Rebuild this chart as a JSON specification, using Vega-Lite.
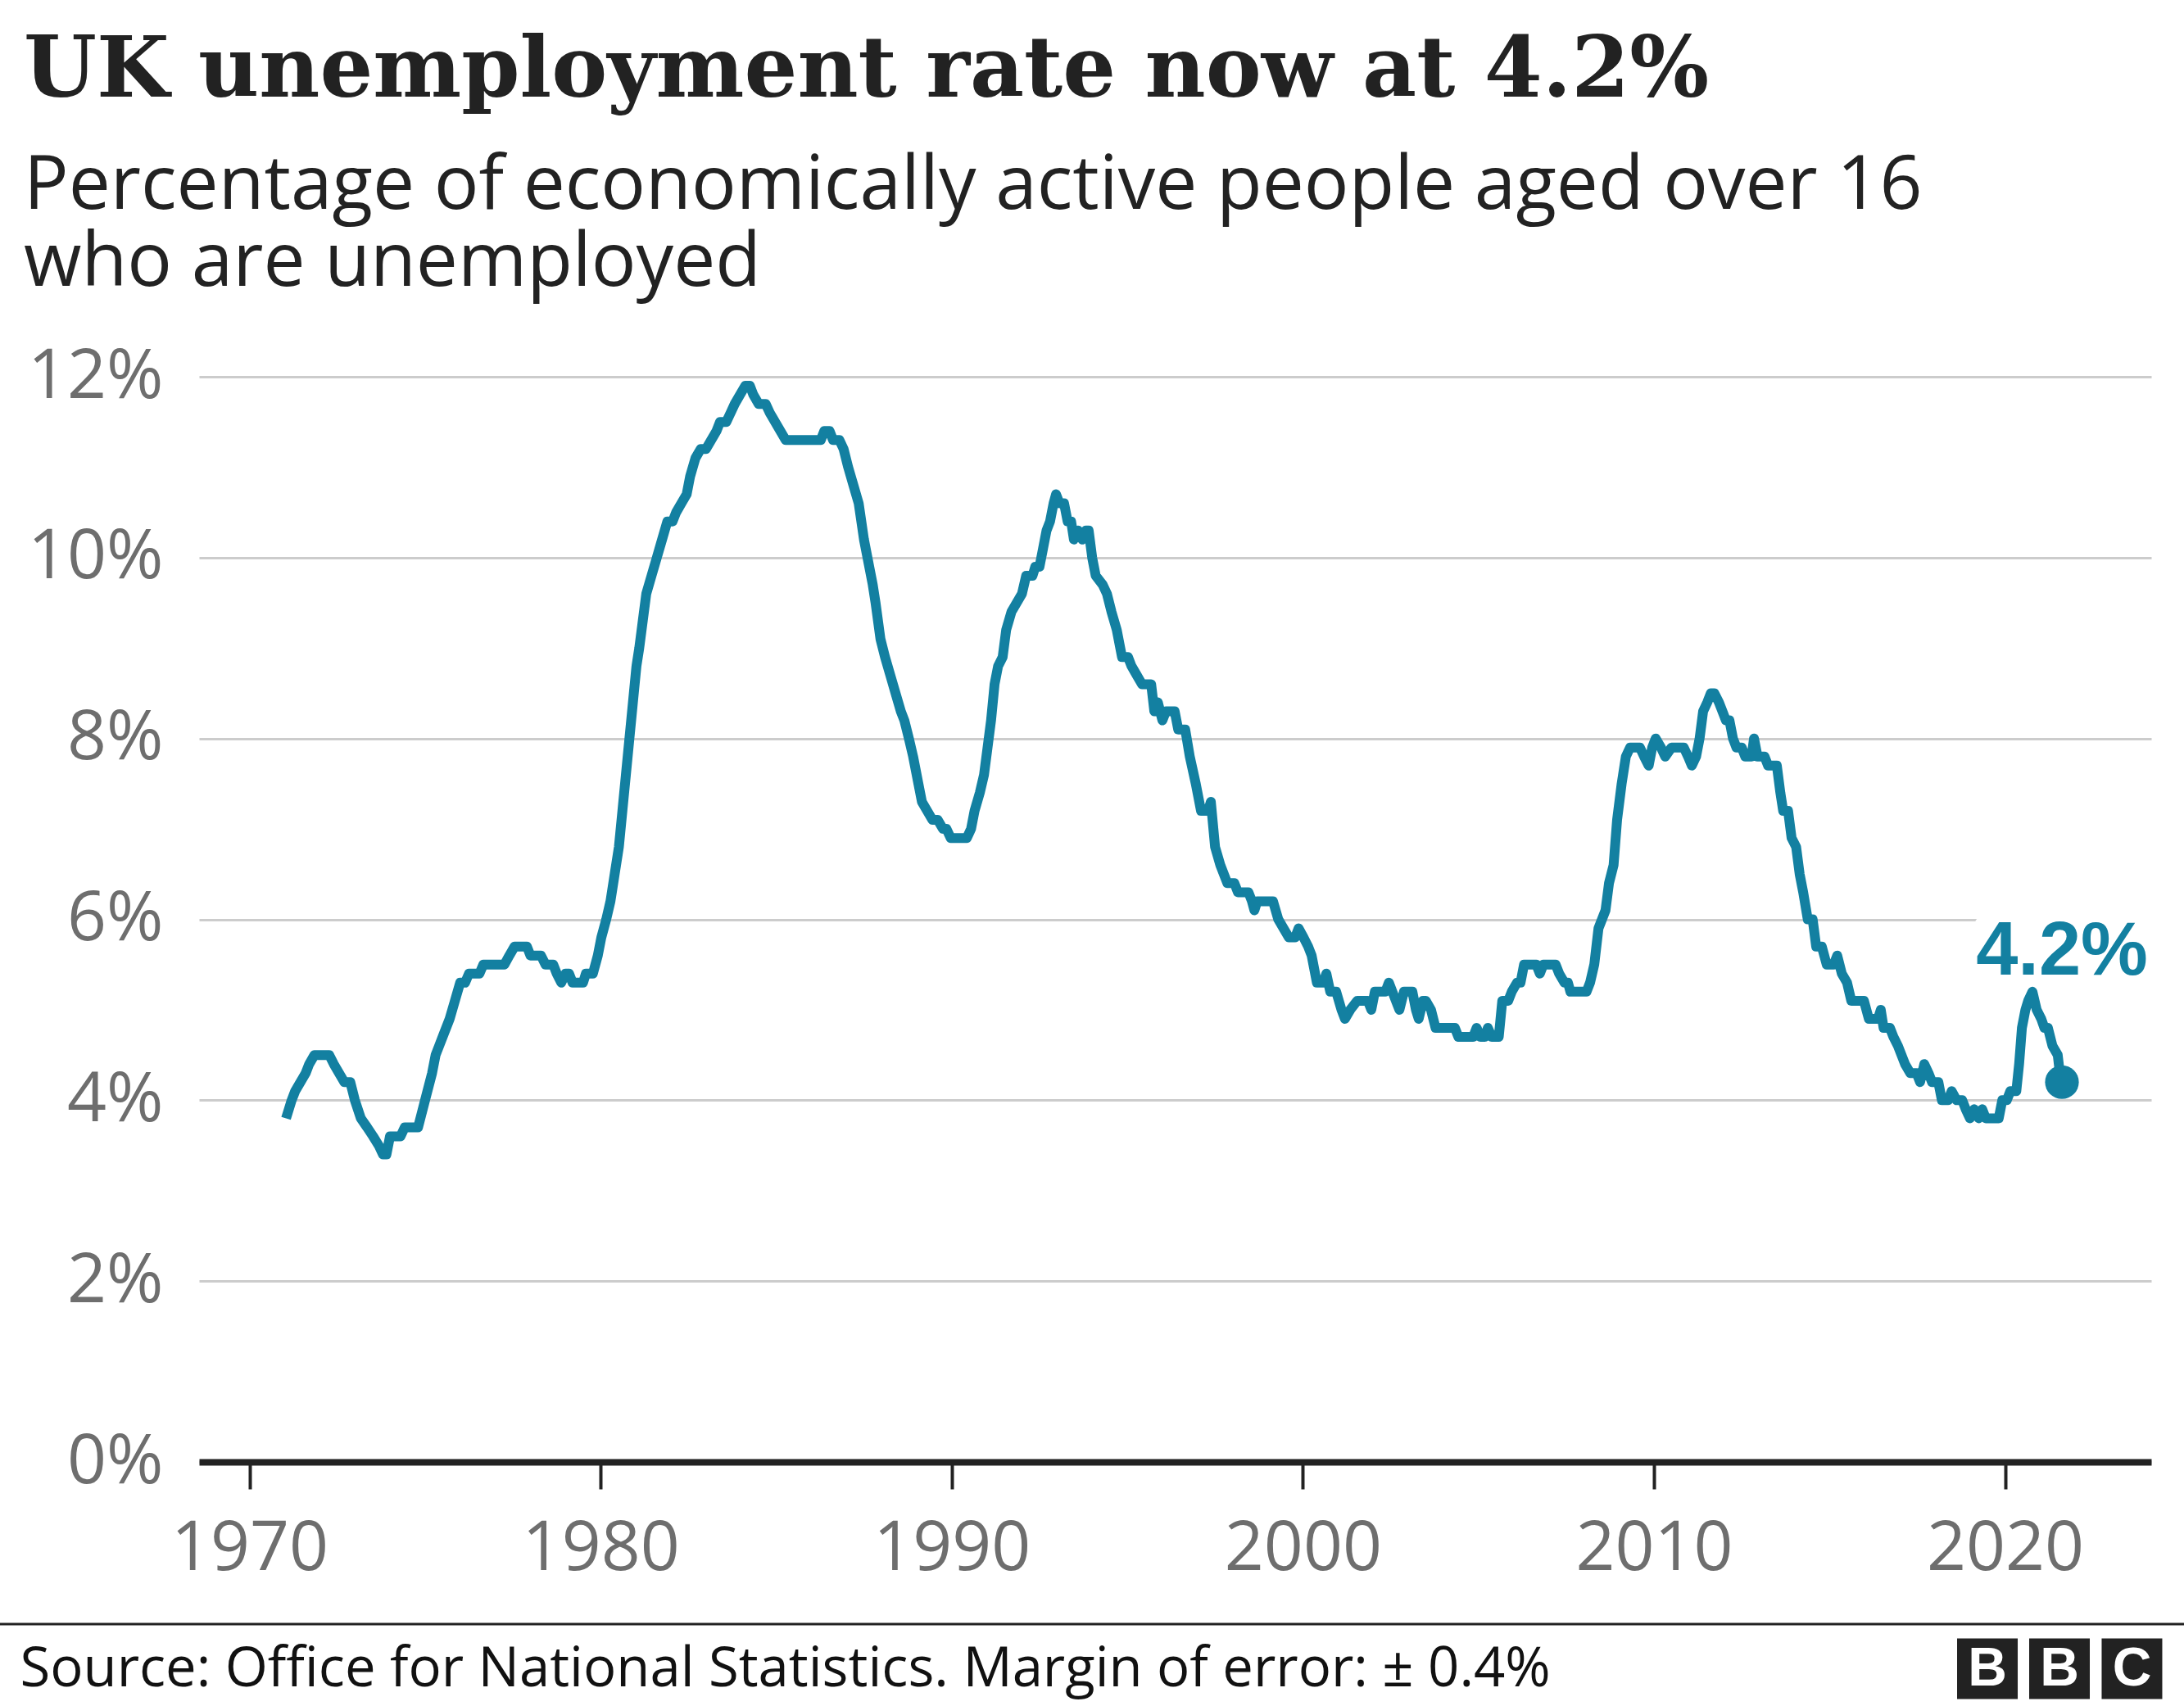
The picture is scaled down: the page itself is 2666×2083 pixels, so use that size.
{
  "$schema": "https://vega.github.io/schema/vega-lite/v6.json",
  "width": 2383,
  "height": 1325,
  "autosize": {"type": "none"},
  "padding": {"left": 243, "top": 460, "right": 40, "bottom": 298},
  "background": "white",
  "config": {"view": {"stroke": null}},
  "title": {
    "text": "UK unemployment rate now at 4.2%",
    "subtitle": ["Percentage of economically active people aged over 16", "who are unemployed"],
    "anchor": "start",
    "frame": "group",
    "dx": -214,
    "font": "DejaVu Serif",
    "fontSize": 102,
    "fontWeight": "bold",
    "color": "#222222",
    "subtitleFont": "Open Sans",
    "subtitleFontSize": 91,
    "subtitleColor": "#222222",
    "subtitleLineHeight": 94,
    "subtitlePadding": 44,
    "offset": 50
  },
  "datasets": {
    "ur": [
      {"t":1971.04,"v":3.8},{"t":1971.2,"v":4.0},{"t":1971.3,"v":4.1},{"t":1971.45,"v":4.2},{"t":1971.6,"v":4.3},{"t":1971.7,"v":4.4},{"t":1971.85,"v":4.5},{"t":1972.27,"v":4.5},{"t":1972.4,"v":4.4},{"t":1972.55,"v":4.3},{"t":1972.7,"v":4.2},{"t":1972.87,"v":4.2},{"t":1973.0,"v":4.0},{"t":1973.17,"v":3.8},{"t":1973.35,"v":3.7},{"t":1973.52,"v":3.6},{"t":1973.68,"v":3.5},{"t":1973.8,"v":3.4},{"t":1973.9,"v":3.4},{"t":1974.0,"v":3.6},{"t":1974.3,"v":3.6},{"t":1974.42,"v":3.7},{"t":1974.8,"v":3.7},
      {"t":1975.0,"v":4.0},{"t":1975.2,"v":4.3},{"t":1975.3,"v":4.5},{"t":1975.5,"v":4.7},{"t":1975.7,"v":4.9},{"t":1975.85,"v":5.1},{"t":1976.0,"v":5.3},{"t":1976.14,"v":5.3},{"t":1976.25,"v":5.4},{"t":1976.55,"v":5.4},{"t":1976.66,"v":5.5},{"t":1977.26,"v":5.5},{"t":1977.4,"v":5.6},{"t":1977.55,"v":5.7},{"t":1977.9,"v":5.7},{"t":1978.0,"v":5.6},{"t":1978.3,"v":5.6},{"t":1978.43,"v":5.5},{"t":1978.65,"v":5.5},{"t":1978.75,"v":5.4},{"t":1978.88,"v":5.3},{"t":1979.0,"v":5.4},{"t":1979.1,"v":5.4},{"t":1979.2,"v":5.3},{"t":1979.5,"v":5.3},{"t":1979.58,"v":5.4},{"t":1979.78,"v":5.4},{"t":1979.92,"v":5.6},
      {"t":1980.02,"v":5.8},{"t":1980.16,"v":6.0},{"t":1980.28,"v":6.2},{"t":1980.4,"v":6.5},{"t":1980.52,"v":6.8},{"t":1980.62,"v":7.2},{"t":1980.72,"v":7.6},{"t":1980.82,"v":8.0},{"t":1980.92,"v":8.4},{"t":1981.02,"v":8.8},{"t":1981.1,"v":9.0},{"t":1981.2,"v":9.3},{"t":1981.3,"v":9.6},{"t":1981.45,"v":9.8},{"t":1981.6,"v":10.0},{"t":1981.75,"v":10.2},{"t":1981.9,"v":10.4},{"t":1982.05,"v":10.4},{"t":1982.15,"v":10.5},{"t":1982.3,"v":10.6},{"t":1982.45,"v":10.7},{"t":1982.55,"v":10.9},{"t":1982.7,"v":11.1},{"t":1982.85,"v":11.2},{"t":1983.0,"v":11.2},{"t":1983.15,"v":11.3},{"t":1983.3,"v":11.4},{"t":1983.4,"v":11.5},{"t":1983.58,"v":11.5},{"t":1983.7,"v":11.6},{"t":1983.82,"v":11.7},{"t":1983.97,"v":11.8},{"t":1984.12,"v":11.9},{"t":1984.25,"v":11.9},{"t":1984.35,"v":11.8},{"t":1984.5,"v":11.7},{"t":1984.7,"v":11.7},{"t":1984.82,"v":11.6},{"t":1984.97,"v":11.5},
      {"t":1985.12,"v":11.4},{"t":1985.27,"v":11.3},{"t":1986.27,"v":11.3},{"t":1986.37,"v":11.4},{"t":1986.52,"v":11.4},{"t":1986.62,"v":11.3},{"t":1986.8,"v":11.3},{"t":1986.92,"v":11.2},{"t":1987.05,"v":11.0},{"t":1987.2,"v":10.8},{"t":1987.35,"v":10.6},{"t":1987.5,"v":10.2},{"t":1987.6,"v":10.0},{"t":1987.75,"v":9.7},{"t":1987.83,"v":9.5},{"t":1987.97,"v":9.1},{"t":1988.1,"v":8.9},{"t":1988.25,"v":8.7},{"t":1988.4,"v":8.5},{"t":1988.55,"v":8.3},{"t":1988.65,"v":8.2},{"t":1988.78,"v":8.0},{"t":1988.9,"v":7.8},{"t":1989.05,"v":7.5},{"t":1989.15,"v":7.3},{"t":1989.3,"v":7.2},{"t":1989.45,"v":7.1},{"t":1989.6,"v":7.1},{"t":1989.75,"v":7.0},{"t":1989.85,"v":7.0},{"t":1989.97,"v":6.9},
      {"t":1990.43,"v":6.9},{"t":1990.55,"v":7.0},{"t":1990.65,"v":7.2},{"t":1990.8,"v":7.4},{"t":1990.92,"v":7.6},{"t":1991.02,"v":7.9},{"t":1991.12,"v":8.2},{"t":1991.22,"v":8.6},{"t":1991.32,"v":8.8},{"t":1991.45,"v":8.9},{"t":1991.55,"v":9.2},{"t":1991.7,"v":9.4},{"t":1991.85,"v":9.5},{"t":1992.0,"v":9.6},{"t":1992.12,"v":9.8},{"t":1992.3,"v":9.8},{"t":1992.38,"v":9.9},{"t":1992.5,"v":9.9},{"t":1992.6,"v":10.1},{"t":1992.7,"v":10.3},{"t":1992.8,"v":10.4},{"t":1992.9,"v":10.6},{"t":1992.97,"v":10.7},{"t":1993.07,"v":10.6},{"t":1993.2,"v":10.6},{"t":1993.3,"v":10.4},{"t":1993.4,"v":10.4},{"t":1993.48,"v":10.2},{"t":1993.6,"v":10.3},{"t":1993.72,"v":10.2},{"t":1993.82,"v":10.3},{"t":1993.9,"v":10.3},{"t":1994.0,"v":10.0},{"t":1994.1,"v":9.8},{"t":1994.3,"v":9.7},{"t":1994.42,"v":9.6},{"t":1994.55,"v":9.4},{"t":1994.7,"v":9.2},{"t":1994.85,"v":8.9},
      {"t":1995.02,"v":8.9},{"t":1995.12,"v":8.8},{"t":1995.27,"v":8.7},{"t":1995.42,"v":8.6},{"t":1995.68,"v":8.6},{"t":1995.77,"v":8.3},{"t":1995.87,"v":8.4},{"t":1996.0,"v":8.2},{"t":1996.1,"v":8.3},{"t":1996.35,"v":8.3},{"t":1996.45,"v":8.1},{"t":1996.65,"v":8.1},{"t":1996.78,"v":7.8},{"t":1996.95,"v":7.5},{"t":1997.1,"v":7.2},{"t":1997.3,"v":7.2},{"t":1997.38,"v":7.3},{"t":1997.5,"v":6.8},{"t":1997.65,"v":6.6},{"t":1997.85,"v":6.4},{"t":1998.05,"v":6.4},{"t":1998.15,"v":6.3},{"t":1998.45,"v":6.3},{"t":1998.55,"v":6.2},{"t":1998.62,"v":6.1},{"t":1998.7,"v":6.2},{"t":1999.15,"v":6.2},{"t":1999.3,"v":6.0},{"t":1999.45,"v":5.9},{"t":1999.6,"v":5.8},{"t":1999.78,"v":5.8},{"t":1999.88,"v":5.9},
      {"t":2000.02,"v":5.8},{"t":2000.15,"v":5.7},{"t":2000.25,"v":5.6},{"t":2000.4,"v":5.3},{"t":2000.58,"v":5.3},{"t":2000.67,"v":5.4},{"t":2000.78,"v":5.2},{"t":2000.95,"v":5.2},{"t":2001.1,"v":5.0},{"t":2001.2,"v":4.9},{"t":2001.35,"v":5.0},{"t":2001.55,"v":5.1},{"t":2001.85,"v":5.1},{"t":2001.95,"v":5.0},{"t":2002.05,"v":5.2},{"t":2002.35,"v":5.2},{"t":2002.45,"v":5.3},{"t":2002.55,"v":5.2},{"t":2002.65,"v":5.1},{"t":2002.75,"v":5.0},{"t":2002.88,"v":5.2},{"t":2003.12,"v":5.2},{"t":2003.22,"v":5.0},{"t":2003.3,"v":4.9},{"t":2003.42,"v":5.1},{"t":2003.5,"v":5.1},{"t":2003.65,"v":5.0},{"t":2003.78,"v":4.8},{"t":2004.33,"v":4.8},{"t":2004.43,"v":4.7},{"t":2004.85,"v":4.7},{"t":2004.95,"v":4.8},
      {"t":2005.06,"v":4.7},{"t":2005.18,"v":4.7},{"t":2005.27,"v":4.8},{"t":2005.38,"v":4.7},{"t":2005.58,"v":4.7},{"t":2005.68,"v":5.1},{"t":2005.85,"v":5.1},{"t":2005.95,"v":5.2},{"t":2006.1,"v":5.3},{"t":2006.2,"v":5.3},{"t":2006.3,"v":5.5},{"t":2006.65,"v":5.5},{"t":2006.75,"v":5.4},{"t":2006.85,"v":5.5},{"t":2007.2,"v":5.5},{"t":2007.3,"v":5.4},{"t":2007.45,"v":5.3},{"t":2007.55,"v":5.3},{"t":2007.62,"v":5.2},{"t":2008.08,"v":5.2},{"t":2008.18,"v":5.3},{"t":2008.3,"v":5.5},{"t":2008.42,"v":5.9},{"t":2008.52,"v":6.0},{"t":2008.62,"v":6.1},{"t":2008.72,"v":6.4},{"t":2008.85,"v":6.6},{"t":2008.95,"v":7.1},{"t":2009.08,"v":7.5},{"t":2009.2,"v":7.8},{"t":2009.32,"v":7.9},{"t":2009.6,"v":7.9},{"t":2009.72,"v":7.8},{"t":2009.85,"v":7.7},{"t":2009.95,"v":7.9},
      {"t":2010.05,"v":8.0},{"t":2010.2,"v":7.9},{"t":2010.32,"v":7.8},{"t":2010.5,"v":7.9},{"t":2010.85,"v":7.9},{"t":2010.97,"v":7.8},{"t":2011.08,"v":7.7},{"t":2011.2,"v":7.8},{"t":2011.3,"v":8.0},{"t":2011.4,"v":8.3},{"t":2011.52,"v":8.4},{"t":2011.62,"v":8.5},{"t":2011.72,"v":8.5},{"t":2011.85,"v":8.4},{"t":2011.95,"v":8.3},{"t":2012.05,"v":8.2},{"t":2012.15,"v":8.2},{"t":2012.25,"v":8.0},{"t":2012.35,"v":7.9},{"t":2012.5,"v":7.9},{"t":2012.6,"v":7.8},{"t":2012.78,"v":7.8},{"t":2012.85,"v":8.0},{"t":2012.95,"v":7.8},{"t":2013.15,"v":7.8},{"t":2013.25,"v":7.7},{"t":2013.5,"v":7.7},{"t":2013.6,"v":7.4},{"t":2013.68,"v":7.2},{"t":2013.82,"v":7.2},{"t":2013.92,"v":6.9},{"t":2014.05,"v":6.8},{"t":2014.15,"v":6.5},{"t":2014.25,"v":6.3},{"t":2014.38,"v":6.0},{"t":2014.52,"v":6.0},{"t":2014.62,"v":5.7},{"t":2014.78,"v":5.7},{"t":2014.92,"v":5.5},
      {"t":2015.12,"v":5.5},{"t":2015.22,"v":5.6},{"t":2015.35,"v":5.4},{"t":2015.5,"v":5.3},{"t":2015.62,"v":5.1},{"t":2015.98,"v":5.1},{"t":2016.12,"v":4.9},{"t":2016.38,"v":4.9},{"t":2016.46,"v":5.0},{"t":2016.54,"v":4.8},{"t":2016.72,"v":4.8},{"t":2016.82,"v":4.7},{"t":2016.95,"v":4.6},{"t":2017.05,"v":4.5},{"t":2017.15,"v":4.4},{"t":2017.3,"v":4.3},{"t":2017.48,"v":4.3},{"t":2017.58,"v":4.2},{"t":2017.7,"v":4.4},{"t":2017.82,"v":4.3},{"t":2017.92,"v":4.2},{"t":2018.1,"v":4.2},{"t":2018.2,"v":4.0},{"t":2018.38,"v":4.0},{"t":2018.48,"v":4.1},{"t":2018.62,"v":4.0},{"t":2018.78,"v":4.0},{"t":2018.88,"v":3.9},{"t":2019.0,"v":3.8},{"t":2019.12,"v":3.9},{"t":2019.25,"v":3.8},{"t":2019.35,"v":3.9},{"t":2019.45,"v":3.8},{"t":2019.82,"v":3.8},{"t":2019.92,"v":4.0},
      {"t":2020.05,"v":4.0},{"t":2020.15,"v":4.1},{"t":2020.32,"v":4.1},{"t":2020.4,"v":4.4},{"t":2020.48,"v":4.8},{"t":2020.58,"v":5.0},{"t":2020.66,"v":5.1},{"t":2020.78,"v":5.2},{"t":2020.9,"v":5.0},{"t":2021.03,"v":4.9},{"t":2021.12,"v":4.8},{"t":2021.22,"v":4.8},{"t":2021.35,"v":4.6},{"t":2021.5,"v":4.5},{"t":2021.56,"v":4.3},{"t":2021.62,"v":4.2}
    ]
  },
  "data": {"name": "ur"},
  "layer": [
    {
      "data": {"values": [{}]},
      "mark": {"type": "rule", "color": "#222222", "strokeWidth": 3},
      "encoding": {"x": {"datum": 1962.8}, "x2": {"datum": 2025.2}, "y": {"datum": -1.793}}
    },
    {
      "data": {"values": [{}]},
      "mark": {"type": "point", "shape": "square", "filled": true, "color": "#222222", "opacity": 1, "size": 5476},
      "encoding": {"x": {"datum": 2019.497}, "y": {"datum": -2.287}}
    },
    {
      "data": {"values": [{}]},
      "mark": {"type": "point", "shape": "square", "filled": true, "color": "#222222", "opacity": 1, "size": 5476},
      "encoding": {"x": {"datum": 2021.55}, "y": {"datum": -2.287}}
    },
    {
      "data": {"values": [{}]},
      "mark": {"type": "point", "shape": "square", "filled": true, "color": "#222222", "opacity": 1, "size": 5476},
      "encoding": {"x": {"datum": 2023.614}, "y": {"datum": -2.287}}
    },
    {
      "data": {"values": [{"letter": "B"}]},
      "mark": {"type": "text", "font": "Liberation Sans", "fontWeight": "bold", "fontSize": 66, "color": "white", "align": "center", "baseline": "alphabetic"},
      "encoding": {"x": {"datum": 2019.497}, "y": {"datum": -2.472}, "text": {"field": "letter"}}
    },
    {
      "data": {"values": [{"letter": "B"}]},
      "mark": {"type": "text", "font": "Liberation Sans", "fontWeight": "bold", "fontSize": 66, "color": "white", "align": "center", "baseline": "alphabetic"},
      "encoding": {"x": {"datum": 2021.55}, "y": {"datum": -2.472}, "text": {"field": "letter"}}
    },
    {
      "data": {"values": [{"letter": "C"}]},
      "mark": {"type": "text", "font": "Liberation Sans", "fontWeight": "bold", "fontSize": 66, "color": "white", "align": "center", "baseline": "alphabetic"},
      "encoding": {"x": {"datum": 2023.614}, "y": {"datum": -2.472}, "text": {"field": "letter"}}
    },
    {
      "transform": [
        {"joinaggregate": [{"op": "max", "field": "t", "as": "tmax"}]},
        {"filter": "datum.t == datum.tmax"}
      ],
      "mark": {"type": "text", "font": "Liberation Sans", "fontWeight": "bold", "fontSize": 92, "fill": "white", "stroke": "white", "strokeWidth": 50, "strokeJoin": "round", "align": "center", "baseline": "alphabetic", "dy": -131, "text": {"expr": "format(datum.v, '.1f') + '%'"}},
      "encoding": {"x": {"field": "t", "type": "quantitative"}, "y": {"field": "v", "type": "quantitative"}}
    },
    {
      "mark": {"type": "line", "color": "#1380A1", "strokeWidth": 12, "strokeJoin": "round", "strokeCap": "butt"},
      "encoding": {
        "x": {
          "field": "t", "type": "quantitative",
          "scale": {"domain": [1968.563, 2024.163], "nice": false, "zero": false},
          "axis": {
            "values": [1970, 1980, 1990, 2000, 2010, 2020],
            "format": "d",
            "grid": false,
            "domainColor": "#222222", "domainWidth": 8,
            "tickColor": "#222222", "tickWidth": 4, "tickSize": 33,
            "labelFont": "Open Sans", "labelFontSize": 84, "labelColor": "#6e6e6e",
            "labelPadding": 32, "labelFlush": false, "labelLimit": 0, "labelOverlap": false,
            "title": "Source: Office for National Statistics. Margin of error: ± 0.4%",
            "titleX": -219, "titleY": 273,
            "titleAlign": "left", "titleBaseline": "alphabetic", "titleAnchor": "start",
            "titleFont": "Open Sans", "titleFontSize": 67, "titleFontWeight": "normal", "titleColor": "#111111", "titleLimit": 0
          }
        },
        "y": {
          "field": "v", "type": "quantitative",
          "scale": {"domain": [0, 12], "nice": false, "zero": true},
          "axis": {
            "values": [0, 2, 4, 6, 8, 10, 12],
            "labelExpr": "datum.value + '%'",
            "grid": true, "gridColor": "#cccccc", "gridWidth": 3,
            "domain": false, "ticks": false, "tickSize": 0,
            "labelFont": "Open Sans", "labelFontSize": 84, "labelColor": "#6e6e6e",
            "labelPadding": 44, "labelBaseline": "middle", "labelLimit": 0,
            "title": null
          }
        }
      }
    },
    {
      "transform": [
        {"joinaggregate": [{"op": "max", "field": "t", "as": "tmax"}]},
        {"filter": "datum.t == datum.tmax"}
      ],
      "mark": {"type": "point", "filled": true, "color": "#1380A1", "opacity": 1, "size": 1700},
      "encoding": {"x": {"field": "t", "type": "quantitative"}, "y": {"field": "v", "type": "quantitative"}}
    },
    {
      "transform": [
        {"joinaggregate": [{"op": "max", "field": "t", "as": "tmax"}]},
        {"filter": "datum.t == datum.tmax"}
      ],
      "mark": {"type": "text", "font": "Liberation Sans", "fontWeight": "bold", "fontSize": 92, "color": "#1380A1", "align": "center", "baseline": "alphabetic", "dy": -131, "text": {"expr": "format(datum.v, '.1f') + '%'"}},
      "encoding": {"x": {"field": "t", "type": "quantitative"}, "y": {"field": "v", "type": "quantitative"}}
    }
  ]
}
